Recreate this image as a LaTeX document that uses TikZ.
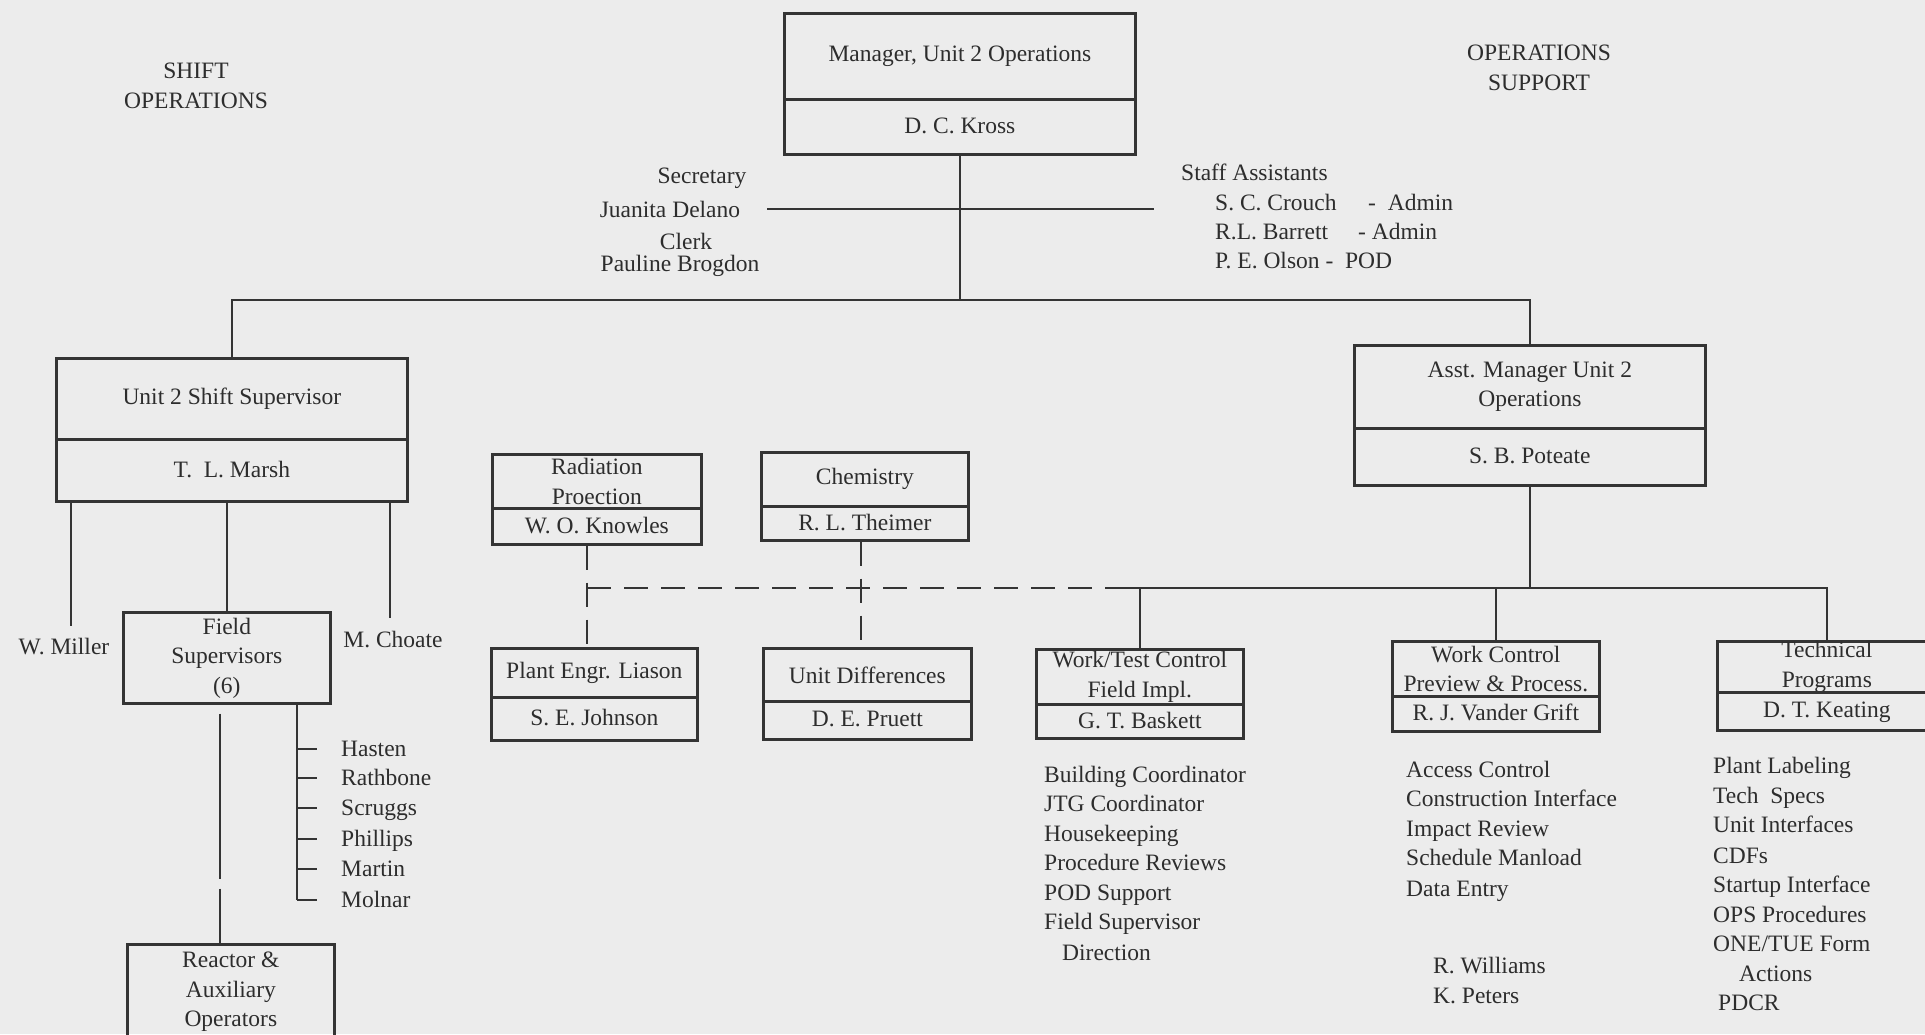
\documentclass[tikz,border=0pt]{standalone}
\usepackage{fontspec}
\setmainfont{Liberation Serif}
\definecolor{paper}{RGB}{236,236,236}
\definecolor{linegray}{RGB}{52,52,52}
\definecolor{inkgray}{RGB}{45,45,45}

% two-part box: name, left, right, top, divider, bottom, title, person
\newcommand{\orgbox}[8]{%
  \node[boxpart, minimum width={#3-#2}, minimum height={#5-#4}] (#1t) at (#2,#4) {#7};
  \node[boxpart, personpart, minimum width={#3-#2}, minimum height={#6-#5}] (#1b) at (#2,#5) {#8};
}

\begin{document}
\begin{tikzpicture}[x=1pt,y=-1pt,
  every node/.style={font=\fontsize{23.5pt}{29.5pt}\selectfont, text=inkgray, inner sep=0pt},
  boxpart/.style={draw=linegray, line width=2.7pt, align=center, anchor=north west},
  personpart/.style={text depth=0.25em},
  conn/.style={draw=linegray, line width=2.6pt},
  dashconn/.style={conn, dash pattern=on 24pt off 13pt},
  caption/.style={align=center},
  item/.style={anchor=base west}]

\useasboundingbox (0,0) rectangle (1925,1034);
\fill[paper] (0,0) rectangle (1925,1034);
\clip (0,0) rectangle (1925,1034);

% ---- headings
\node[caption] (shiftops) at (196,86) {SHIFT\\OPERATIONS};
\node[caption] (opsupport) at (1539,68) {OPERATIONS\\SUPPORT};

% ---- boxes
\orgbox{mgr}{783}{1134}{12}{98}{153}{Manager, Unit 2 Operations}{D. C. Kross}
\orgbox{ss}{55}{406}{357}{438}{500}{Unit 2 Shift Supervisor}{T.\ \ L. Marsh}
\orgbox{am}{1353}{1704}{344}{427}{484}{Asst. Manager Unit 2\\Operations}{S. B. Poteate}
\orgbox{rp}{491}{700}{453}{507}{543}{Radiation\\Proection}{W. O. Knowles}
\orgbox{ch}{760}{967}{451}{505}{539}{Chemistry}{R. L. Theimer}
\orgbox{pe}{490}{696}{647}{696}{739}{Plant Engr. Liason}{S. E. Johnson}
\orgbox{ud}{762}{970}{647}{700}{738}{Unit Differences}{D. E. Pruett}
\orgbox{wt}{1035}{1242}{648}{703}{737}{Work/Test Control\\Field Impl.}{G. T. Baskett}
\orgbox{wc}{1391}{1598}{640}{695}{730}{Work Control\\Preview \& Process.}{R. J. Vander Grift}
\orgbox{tp}{1716}{1935}{640}{691}{729}{Technical\\Programs}{D. T. Keating}

\node[boxpart, minimum width=207, minimum height=91] (fs) at (122,611) {Field\\Supervisors\\(6)};
\node[boxpart, minimum width=207, minimum height=95] (rx) at (126,943) {Reactor \&\\Auxiliary\\Operators};

% ---- secretary and staff
\node (sec1) at (702,178) {Secretary};
\node (sec2) at (670,209) {Juanita Delano};
\node (sec3) at (686,241) {Clerk};
\node (sec4) at (680,266) {Pauline Brogdon};
\node[item] (staff0) at (1181,180) {Staff Assistants};
\node[item] (staff1) at (1215,210) {S. C. Crouch};
\node[item] (staff1r) at (1368,210) {-\ \ Admin};
\node[item] (staff2) at (1215,239) {R.L. Barrett};
\node[item] (staff2r) at (1358,239) {-\ Admin};
\node[item] (staff3) at (1215,268) {P. E. Olson -\ \ POD};

\coordinate (secL) at (767,209);
\coordinate (secR) at (1154,209);
\draw[conn] (secL) -- (secR);

% ---- top level connectors
\coordinate (bar) at (959,300);
\draw[conn] (mgrb.south) -- (mgrb.south |- bar);
\draw[conn] (sst.north) |- (bar) -| (amt.north);

% ---- shift supervisor branch
\node (miller) at (64,647) {W. Miller};
\node (choate) at (393,640) {M. Choate};
\coordinate (millerEnd) at (71,626);
\coordinate (choateEnd) at (390,618);
\draw[conn] (ssb.south -| millerEnd) -- (millerEnd);
\draw[conn] (ssb.south -| fs.north) -- (fs.north);
\draw[conn] (ssb.south -| choateEnd) -- (choateEnd);

\coordinate (rxX) at (220,0);
\draw[conn, dash pattern=on 0pt off 9pt on 165pt off 10pt on 80pt] (fs.south -| rxX) -- (rx.north -| rxX);

\coordinate (brX) at (297,0);
\coordinate (brEnd) at (297,900);
\draw[conn] (fs.south -| brX) -- (brEnd);
\foreach \nm/\yy [count=\i] in {Hasten/749, Rathbone/778, Scruggs/808, Phillips/839, Martin/869, Molnar/900} {
  \node[item] (fsn\i) at (341,\yy+7) {\nm};
  \draw[conn] (297,\yy) -- (317,\yy);
}

% ---- dotted-line relations
\coordinate (rpX) at (587,0);
\coordinate (chX) at (861,0);
\coordinate (dashStart) at (587,588);
\coordinate (dashEnd) at (1113,588);
\draw[dashconn] (rpb.south -| rpX) -- (pet.north -| rpX);
\draw[dashconn] (chb.south -| chX) -- (udt.north -| chX);
\draw[dashconn] (dashStart) -- (dashEnd);

% ---- assistant manager branch
\draw[conn] (amb.south) -- (amb.south |- dashEnd);
\draw[conn] (dashEnd) -- (tpt.north |- dashEnd) -- (tpt.north);
\draw[conn] (wtt.north |- dashEnd) -- (wtt.north);
\draw[conn] (wct.north |- dashEnd) -- (wct.north);

% ---- duty lists
\foreach \txt/\xx/\yy [count=\i] in {Building Coordinator/1044/775, JTG Coordinator/1044/804,
    Housekeeping/1044/834, Procedure Reviews/1044/863, POD Support/1044/893,
    Field Supervisor/1044/922, Direction/1062/953} {
  \node[item] (wtl\i) at (\xx,\yy+7) {\txt};
}
\foreach \txt/\yy [count=\i] in {Access Control/770, Construction Interface/799,
    Impact Review/829, Schedule Manload/858, Data Entry/889} {
  \node[item] (wcl\i) at (1406,\yy+7) {\txt};
}
\node[item] (wcp1) at (1433,973) {R. Williams};
\node[item] (wcp2) at (1433,1003) {K. Peters};
\foreach \txt/\xx/\yy [count=\i] in {Plant Labeling/1713/766, Tech\ \ Specs/1713/796,
    Unit Interfaces/1713/825, CDFs/1713/856, Startup Interface/1713/885,
    OPS Procedures/1713/915, {ONE/TUE Form}/1713/944, Actions/1739/974, PDCR/1718/1003} {
  \node[item] (tpl\i) at (\xx,\yy+7) {\txt};
}

\end{tikzpicture}
\end{document}
